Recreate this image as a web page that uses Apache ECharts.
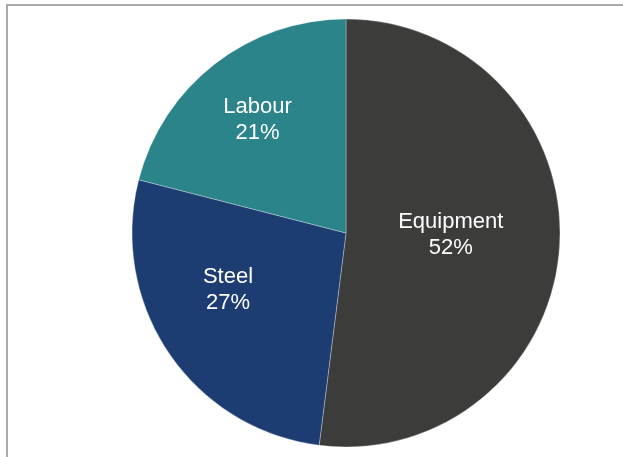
<!DOCTYPE html>
<html lang="en">
<head>
    <meta charset="UTF-8">
    <title>Cost split</title>
    <script src="https://cdn.jsdelivr.net/npm/echarts@6/dist/echarts.min.js"></script>
    <style>
        html, body {margin: 0; padding: 0; background: #fff;}
    </style>
</head>
<body>
<div id="main" style="width: 623px;height:457px;"></div>
<script>
    var categories = ['Equipment', 'Steel', 'Labour'];
    var shares = [52, 27, 21];
    var colors = ['#3c3c3b', '#1c3c72', '#2a8489'];
    // nudges so the labels sit where the original has them
    var labelShift = [[-5, -5], [-27, -5], [-21, -26]];

    var pieData = [];
    for (var i = 0; i < categories.length; i++) {
        pieData.push({name: categories[i], value: shares[i], itemStyle: {color: colors[i]}});
    }

    var myChart = echarts.init(document.getElementById('main'));
    var option = {
        animation: false,
        graphic: [
            {
                type: 'rect',
                shape: {x: 7, y: 5, width: 700, height: 700},
                style: {fill: 'none', stroke: '#aaaaaa', lineWidth: 2},
                silent: true
            }
        ],
        series: [
            {
                type: 'pie',
                center: [346, 233],
                radius: [0, 214],
                startAngle: 90,
                clockwise: true,
                data: pieData,
                itemStyle: {
                    borderColor: 'rgba(255,255,255,0.3)',
                    borderWidth: 1
                },
                label: {
                    position: 'inside',
                    formatter: '{b}\n{c}%',
                    color: '#ffffff',
                    fontFamily: 'Liberation Sans, Arial, sans-serif',
                    fontSize: 22,
                    lineHeight: 26
                },
                labelLayout: function (params) {
                    var s = labelShift[params.dataIndex];
                    return {dx: s[0], dy: s[1]};
                },
                labelLine: {show: false},
                emphasis: {disabled: true}
            }
        ]
    };
    myChart.setOption(option);
</script>
</body>
</html>
